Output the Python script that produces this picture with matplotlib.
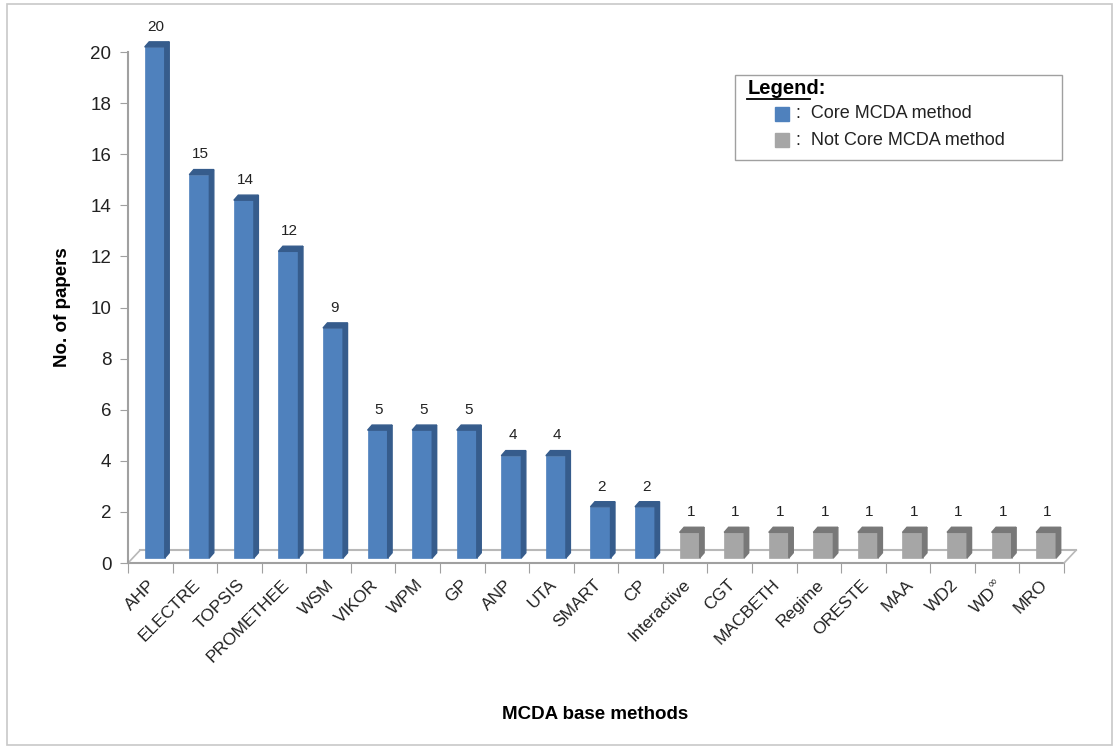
import matplotlib.pyplot as plt
from matplotlib.patches import Rectangle

plt.rcParams['font.family'] = ['Liberation Sans', 'DejaVu Sans']

# data
methods = ['AHP', 'ELECTRE', 'TOPSIS', 'PROMETHEE', 'WSM', 'VIKOR', 'WPM', 'GP',
           'ANP', 'UTA', 'SMART', 'CP', 'Interactive', 'CGT', 'MACBETH', 'Regime',
           'ORESTE', 'MAA', 'WD2', 'WD$^{\\infty}$', 'MRO']
papers = [20, 15, 14, 12, 9, 5, 5, 5, 4, 4, 2, 2, 1, 1, 1, 1, 1, 1, 1, 1, 1]
core = [True] * 12 + [False] * 9

blue, blue_side = '#4F81BD', '#365C8C'
grey, grey_side = '#A6A6A6', '#787878'

fig = plt.figure(figsize=(11.19, 7.49), dpi=100)
ax = fig.add_axes([0.1144, 0.2483, 0.8365, 0.6822])

# outer chart border
fig.patches.append(Rectangle((0.006, 0.006), 0.988, 0.988, transform=fig.transFigure,
                             fill=False, edgecolor='#C8C8C8', linewidth=1.2))

w = 0.45      # bar width
sx, sy = 0.1, 0.2   # shift of bars into the floor
dx, dy = 0.1, 0.2   # depth of side face

# floor of the 3d plot
ax.plot([-0.5, 20.5], [0, 0], color='#A0A0A0', lw=1.5, clip_on=False, zorder=1)
ax.plot([-0.5 + 0.27, 20.5 + 0.27], [0.5, 0.5], color='#B8B8B8', lw=1.5, clip_on=False, zorder=1)
ax.plot([-0.5, -0.5 + 0.27], [0, 0.5], color='#B8B8B8', lw=1.2, clip_on=False, zorder=1)
ax.plot([20.5, 20.5 + 0.27], [0, 0.5], color='#B8B8B8', lw=1.2, clip_on=False, zorder=1)

for i, (v, c) in enumerate(zip(papers, core)):
    front = blue if c else grey
    side = blue_side if c else grey_side
    x0 = i + sx - w / 2
    x1 = i + sx + w / 2
    ax.bar(i + sx, v, w, bottom=sy, color=front, edgecolor=front, lw=0.5, zorder=3, clip_on=False)
    ax.fill([x1, x1 + dx, x1 + dx, x1], [sy, sy + dy, sy + v + dy, sy + v],
            color=side, zorder=3, clip_on=False)
    ax.fill([x0, x1, x1 + dx, x0 + dx], [sy + v, sy + v, sy + v + dy, sy + v + dy],
            color=side, zorder=3, clip_on=False)
    ax.text(i + sx + 0.03, v + 0.72, str(v), ha='center', va='bottom',
            fontsize=11, color='#222222', clip_on=False)

ax.set_xlim(-0.5, 20.5)
ax.set_ylim(0, 20)
ax.set_yticks(range(0, 21, 2))
ax.tick_params(axis='y', labelsize=13.5, length=6, color='#A0A0A0', pad=6, labelcolor='#222222')

ax.set_xticks([i - 0.5 for i in range(len(methods) + 1)], minor=False)
ax.set_xticklabels([])
ax.tick_params(axis='x', length=7, color='#A0A0A0')
for i, m in enumerate(methods):
    ax.text(i - 0.05, -0.55, m, rotation=45, ha='right', va='top', rotation_mode='anchor',
            fontsize=12.5, color='#222222')

for s in ['top', 'right', 'bottom']:
    ax.spines[s].set_visible(False)
ax.spines['left'].set_color('#A0A0A0')
ax.spines['left'].set_linewidth(1.5)

ax.set_ylabel('No. of papers', fontsize=13.5, fontweight='bold', labelpad=14)
fig.text(0.532, 0.046, 'MCDA base methods', ha='center', va='center',
         fontsize=13.5, fontweight='bold')

# legend box
fig.patches.append(Rectangle((0.657, 0.787), 0.292, 0.113, transform=fig.transFigure,
                             fill=False, edgecolor='#A0A0A0', linewidth=1))
fig.text(0.668, 0.882, 'Legend:', fontsize=14.5, fontweight='bold', ha='left', va='center')
fig.add_artist(plt.Line2D([0.668, 0.724], [0.868, 0.868], color='black', lw=1.3))
for k, (lab, col) in enumerate([('Core MCDA method', blue), ('Not Core MCDA method', grey)]):
    yy = 0.848 - k * 0.035
    fig.patches.append(Rectangle((0.693, yy - 0.0095), 0.012, 0.019, transform=fig.transFigure,
                                 facecolor=col, edgecolor=col))
    fig.text(0.711, yy, ':  ' + lab, fontsize=13, ha='left', va='center', color='#222222')

fig.savefig('out.png', dpi=100)
